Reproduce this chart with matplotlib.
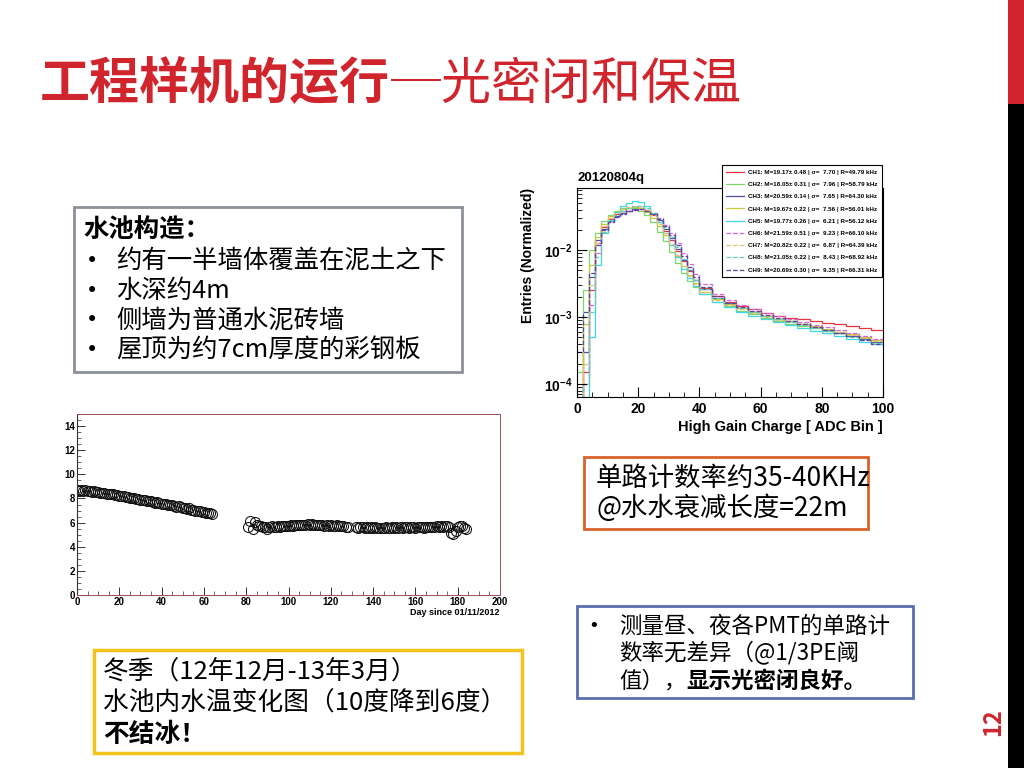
import numpy as np
import matplotlib
matplotlib.use("Agg")
import matplotlib.pyplot as plt
from matplotlib.patches import Rectangle
from matplotlib.lines import Line2D
from matplotlib.ticker import MultipleLocator, LogLocator, NullFormatter

plt.rcParams["font.family"] = ["Noto Sans CJK SC", "DejaVu Sans"]

RED = "#d1252d"
ROOT_FONT = ["Liberation Sans", "DejaVu Sans"]

# ---- histogram data (normalized entries per bin) ----
edges = np.concatenate([np.arange(0, 40, 2), np.arange(40, 101, 4)])

ch1 = [4e-5, 1.5e-4, 2.5e-3, 1.3e-2, 2.2e-2, 2.9e-2, 3.5e-2, 3.9e-2, 4.2e-2, 4.4e-2,
       4.3e-2, 3.9e-2, 3.3e-2, 2.6e-2, 1.95e-2, 1.4e-2, 9.8e-3, 6.8e-3, 4.9e-3, 3.6e-3,
       2.7e-3, 2.05e-3, 1.7e-3, 1.45e-3, 1.3e-3, 1.15e-3, 1.05e-3, 9.8e-4, 9.4e-4, 8.8e-4,
       8.2e-4, 8.0e-4, 7.4e-4, 6.9e-4, 6.4e-4]
ch2 = [1.5e-4, 2.5e-3, 1.0e-2, 1.8e-2, 2.7e-2, 3.4e-2, 3.9e-2, 4.2e-2, 4.3e-2, 4.2e-2,
       3.9e-2, 3.3e-2, 2.6e-2, 1.9e-2, 1.35e-2, 9.3e-3, 6.5e-3, 4.6e-3, 3.5e-3, 2.8e-3,
       2.2e-3, 1.7e-3, 1.45e-3, 1.25e-3, 1.1e-3, 9.8e-4, 8.8e-4, 8.0e-4, 7.4e-4, 6.8e-4,
       6.2e-4, 5.7e-4, 5.2e-4, 4.8e-4, 4.3e-4]
ch3 = [3e-5, 3e-4, 4e-3, 1.4e-2, 2.1e-2, 2.7e-2, 3.2e-2, 3.6e-2, 3.9e-2, 4.1e-2,
       4.2e-2, 4.0e-2, 3.5e-2, 2.8e-2, 2.1e-2, 1.5e-2, 1.05e-2, 7.2e-3, 5.0e-3, 3.6e-3,
       2.6e-3, 1.95e-3, 1.6e-3, 1.35e-3, 1.2e-3, 1.05e-3, 9.5e-4, 8.6e-4, 7.8e-4, 7.0e-4,
       6.4e-4, 5.8e-4, 5.2e-4, 4.7e-4, 4.2e-4]
ch4 = [5e-5, 8e-4, 6e-3, 1.6e-2, 2.5e-2, 3.2e-2, 3.7e-2, 4.1e-2, 4.3e-2, 4.4e-2,
       4.2e-2, 3.7e-2, 3.0e-2, 2.3e-2, 1.7e-2, 1.2e-2, 8.3e-3, 5.8e-3, 4.2e-3, 3.2e-3,
       2.4e-3, 1.85e-3, 1.55e-3, 1.35e-3, 1.2e-3, 1.05e-3, 9.5e-4, 8.7e-4, 8.0e-4, 7.3e-4,
       6.6e-4, 6.0e-4, 5.5e-4, 5.0e-4, 4.5e-4]
ch5 = [2e-5, 6e-5, 5e-4, 6e-3, 1.8e-2, 2.8e-2, 3.7e-2, 4.5e-2, 5.1e-2, 5.4e-2,
       5.2e-2, 4.5e-2, 3.6e-2, 2.6e-2, 1.8e-2, 1.2e-2, 7.8e-3, 5.3e-3, 3.8e-3, 2.9e-3,
       2.2e-3, 1.7e-3, 1.4e-3, 1.2e-3, 1.05e-3, 9.3e-4, 8.4e-4, 7.6e-4, 6.9e-4, 6.3e-4,
       5.7e-4, 5.2e-4, 4.7e-4, 4.3e-4, 3.9e-4]
ch6 = [3e-5, 1e-4, 1.5e-3, 9e-3, 1.9e-2, 2.6e-2, 3.1e-2, 3.5e-2, 3.8e-2, 4.0e-2,
       4.1e-2, 4.0e-2, 3.6e-2, 3.0e-2, 2.4e-2, 1.8e-2, 1.3e-2, 9.0e-3, 6.2e-3, 4.4e-3,
       3.1e-3, 2.25e-3, 1.8e-3, 1.5e-3, 1.3e-3, 1.15e-3, 1.03e-3, 9.3e-4, 8.5e-4, 7.7e-4,
       7.0e-4, 6.4e-4, 5.8e-4, 5.2e-4, 4.7e-4]
ch7 = [4e-5, 2e-4, 3e-3, 1.3e-2, 2.3e-2, 3.0e-2, 3.6e-2, 4.1e-2, 4.4e-2, 4.6e-2,
       4.5e-2, 4.0e-2, 3.3e-2, 2.5e-2, 1.8e-2, 1.25e-2, 8.5e-3, 5.8e-3, 4.1e-3, 3.1e-3,
       2.35e-3, 1.8e-3, 1.5e-3, 1.3e-3, 1.15e-3, 1.02e-3, 9.2e-4, 8.4e-4, 7.7e-4, 7.0e-4,
       6.4e-4, 5.9e-4, 5.4e-4, 4.9e-4, 4.4e-4]
ch8 = [3e-5, 1e-4, 1.2e-3, 8e-3, 1.9e-2, 2.7e-2, 3.3e-2, 3.8e-2, 4.2e-2, 4.5e-2,
       4.6e-2, 4.2e-2, 3.6e-2, 2.9e-2, 2.2e-2, 1.6e-2, 1.1e-2, 7.5e-3, 5.1e-3, 3.6e-3,
       2.6e-3, 1.95e-3, 1.6e-3, 1.35e-3, 1.18e-3, 1.04e-3, 9.3e-4, 8.4e-4, 7.6e-4, 6.9e-4,
       6.3e-4, 5.7e-4, 5.1e-4, 4.6e-4, 4.1e-4]
ch9 = [3e-4, 1.2e-3, 4.5e-3, 1.2e-2, 2.0e-2, 2.6e-2, 3.1e-2, 3.5e-2, 3.8e-2, 4.0e-2,
       4.1e-2, 3.9e-2, 3.5e-2, 2.9e-2, 2.3e-2, 1.7e-2, 1.2e-2, 8.2e-3, 5.6e-3, 4.0e-3,
       2.8e-3, 2.05e-3, 1.65e-3, 1.4e-3, 1.22e-3, 1.08e-3, 9.6e-4, 8.7e-4, 7.9e-4, 7.1e-4,
       6.4e-4, 5.8e-4, 5.2e-4, 4.6e-4, 4.0e-4]

channels = [ch1, ch2, ch3, ch4, ch5, ch6, ch7, ch8, ch9]
ch_labels = [
    "CH1: M=19.17± 0.48 | σ=  7.70 | R=49.79 kHz",
    "CH2: M=18.05± 0.31 | σ=  7.96 | R=58.79 kHz",
    "CH3: M=20.59± 0.14 | σ=  7.65 | R=64.30 kHz",
    "CH4: M=19.67± 0.22 | σ=  7.56 | R=56.01 kHz",
    "CH5: M=19.77± 0.26 | σ=  6.21 | R=56.12 kHz",
    "CH6: M=21.59± 0.51 | σ=  9.23 | R=66.10 kHz",
    "CH7: M=20.82± 0.22 | σ=  6.87 | R=64.39 kHz",
    "CH8: M=21.05± 0.22 | σ=  8.43 | R=68.92 kHz",
    "CH9: M=20.69± 0.30 | σ=  9.35 | R=66.31 kHz",
]
ch_colors = ["#e8333a", "#7bd96a", "#4b4fa8", "#c8c83a", "#3fd8e0",
             "#d766d8", "#e8c070", "#5fd0b8", "#5a45a0"]
ch_styles = ["-", "-", "-", "-", "-", "--", "--", "--", "--"]

# ---- water temperature data ----
days1 = np.arange(0, 65)
temp1 = [8.72, 8.65, 8.70, 8.62, 8.68, 8.60, 8.63, 8.55, 8.58, 8.50,
         8.52, 8.47, 8.44, 8.46, 8.38, 8.40, 8.33, 8.36, 8.28, 8.25,
         8.22, 8.18, 8.20, 8.12, 8.10, 8.05, 8.08, 8.00, 7.96, 7.98,
         7.90, 7.86, 7.88, 7.80, 7.76, 7.78, 7.70, 7.66, 7.68, 7.60,
         7.56, 7.52, 7.55, 7.46, 7.42, 7.45, 7.38, 7.33, 7.36, 7.28,
         7.24, 7.20, 7.15, 7.18, 7.08, 7.05, 7.00, 6.96, 6.98, 6.90,
         6.86, 6.82, 6.80, 6.76, 6.72]
days2 = np.arange(81, 129)
temp2 = [5.60, 6.10, 5.45, 6.05, 5.80, 5.70, 5.75, 5.65, 5.60, 5.50,
         5.62, 5.68, 5.60, 5.66, 5.70, 5.64, 5.72, 5.68, 5.75, 5.70,
         5.78, 5.74, 5.80, 5.76, 5.82, 5.78, 5.84, 5.80, 5.85, 5.82,
         5.86, 5.80, 5.78, 5.82, 5.76, 5.80, 5.74, 5.78, 5.72, 5.76,
         5.74, 5.70, 5.76, 5.72, 5.68, 5.74, 5.66, 5.60]
days3 = np.arange(132, 185)
temp3 = [5.62, 5.58, 5.60, 5.64, 5.58, 5.62, 5.56, 5.60, 5.58, 5.62,
         5.55, 5.58, 5.52, 5.56, 5.60, 5.54, 5.58, 5.62, 5.56, 5.60,
         5.58, 5.62, 5.56, 5.60, 5.64, 5.58, 5.62, 5.60, 5.56, 5.62,
         5.60, 5.64, 5.58, 5.62, 5.66, 5.60, 5.64, 5.62, 5.68, 5.64,
         5.70, 5.66, 5.72, 5.68, 5.60, 5.15, 5.05, 5.30, 5.60, 5.72,
         5.68, 5.55, 5.45]

W, H = 1024, 768
fig = plt.figure(figsize=(W / 100, H / 100), dpi=100)
fig.patch.set_facecolor("white")
renderer = fig.canvas.get_renderer()

# background layer in pixel coordinates
bg = fig.add_axes([0, 0, 1, 1])
bg.set_xlim(0, W)
bg.set_ylim(H, 0)
bg.axis("off")


def px_axes(x0, y0, x1, y1):
    return fig.add_axes([x0 / W, 1 - y1 / H, (x1 - x0) / W, (y1 - y0) / H])


def right_edge(txt):
    # right end of a text item, in background pixel units
    return txt.get_window_extent(renderer).x1


# right side bar
bg.add_patch(Rectangle((1008, 0), 16, 104, color=RED, lw=0))
bg.add_patch(Rectangle((1008, 104), 16, 664, color="black", lw=0))
bg.text(993, 722, "12", color=RED, fontsize=17, fontweight="bold",
        rotation=90, ha="center", va="center")

# title
t_bold = bg.text(40, 85, "工程样机的运行", color=RED, fontsize=36, fontweight="bold",
                 ha="left", va="center")
bg.text(right_edge(t_bold) + 1, 85, "─光密闭和保温", color=RED, fontsize=36,
        ha="left", va="center")

# text boxes
bg.add_patch(Rectangle((74, 207), 388, 165, fill=False, ec="#8c9099", lw=2))
bg.text(83, 230, "水池构造：", fontsize=18.3, fontweight="bold", va="center")
for i, line in enumerate(["约有一半墙体覆盖在泥土之下", "水深约4m",
                          "侧墙为普通水泥砖墙", "屋顶为约7cm厚度的彩钢板"]):
    y = 261 + i * 29.7
    bg.text(86, y, "•", fontsize=15, va="center", family="DejaVu Sans")
    bg.text(116, y, line, fontsize=18.3, va="center")

bg.add_patch(Rectangle((584, 457), 284, 72, fill=False, ec="#d9622b", lw=2))
bg.text(596, 478, "单路计数率约35-40KHz", fontsize=19, va="center")
bg.text(596, 508, "@水水衰减长度=22m", fontsize=19, va="center")

bg.add_patch(Rectangle((577, 606), 336, 92, fill=False, ec="#5b6fae", lw=2))
bg.text(588, 626, "•", fontsize=13, va="center", family="DejaVu Sans")
bg.text(619, 626, "测量昼、夜各PMT的单路计", fontsize=16.2, va="center")
bg.text(619, 653, "数率无差异（@1/3PE阈", fontsize=16.2, va="center")
t_val = bg.text(619, 681, "值），", fontsize=16.2, va="center")
bg.text(right_edge(t_val), 681, "显示光密闭良好。", fontsize=16.2,
        fontweight="bold", va="center")

bg.add_patch(Rectangle((94, 650), 428, 103, fill=False, ec="#f2c31d", lw=2.5))
bg.text(103, 672, "冬季（12年12月-13年3月）", fontsize=18.5, va="center")
bg.text(103, 704, "水池内水温变化图（10度降到6度）", fontsize=18.5, va="center")
bg.text(103, 734, "不结冰！", fontsize=18.5, fontweight="bold", va="center")

# ---- histogram panel ----
ax_h = px_axes(577, 188, 883, 397)
for vals, col, ls in zip(channels, ch_colors, ch_styles):
    ax_h.stairs(vals, edges, color=col, linestyle=ls, lw=0.9, baseline=None)
ax_h.set_yscale("log")
ax_h.set_xlim(0, 100)
ax_h.set_ylim(6.4e-5, 0.085)
ax_h.xaxis.set_major_locator(MultipleLocator(20))
ax_h.xaxis.set_minor_locator(MultipleLocator(5))
ax_h.yaxis.set_major_locator(LogLocator(base=10, numticks=10))
ax_h.yaxis.set_minor_locator(LogLocator(base=10, subs=np.arange(2, 10), numticks=10))
ax_h.yaxis.set_minor_formatter(NullFormatter())
ax_h.tick_params(which="both", direction="in", labelsize=10)
ax_h.tick_params(which="major", length=7, width=0.8)
ax_h.tick_params(which="minor", length=3.5, width=0.6)
for lab in ax_h.get_xticklabels() + ax_h.get_yticklabels():
    lab.set_fontweight("bold")
    lab.set_family(ROOT_FONT)
ax_h.set_xlabel("High Gain Charge [ ADC Bin ]", fontsize=10.5, fontweight="bold",
                family=ROOT_FONT, ha="right", x=1.0, labelpad=3)
ax_h.set_ylabel("Entries (Normalized)", fontsize=10, fontweight="bold",
                family=ROOT_FONT, ha="right", y=1.0, labelpad=6)
ax_h.set_title("20120804q", fontsize=9.5, fontweight="bold", family=ROOT_FONT,
               loc="left", pad=5)

handles = [Line2D([], [], color=c, ls=s, lw=0.9) for c, s in zip(ch_colors, ch_styles)]
leg = fig.legend(handles, ch_labels, loc="upper right",
                 bbox_to_anchor=(882 / W, 1 - 165 / H),
                 prop={"family": ROOT_FONT, "size": 4.5, "weight": "bold"},
                 frameon=True, fancybox=False, edgecolor="black", framealpha=1,
                 handlelength=2.8, labelspacing=1.1, borderpad=0.7,
                 handletextpad=0.7, borderaxespad=0)
leg.get_frame().set_linewidth(0.8)

# ---- water temperature panel ----
ax_t = px_axes(77, 414, 500, 595)
for d, t in [(days1, temp1), (days2, temp2), (days3, temp3)]:
    ax_t.plot(d, t, "o", mfc="none", mec="#111111", ms=7.2, mew=0.75)
ax_t.set_xlim(0, 200)
ax_t.set_ylim(0, 15)
ax_t.xaxis.set_major_locator(MultipleLocator(20))
ax_t.xaxis.set_minor_locator(MultipleLocator(5))
ax_t.yaxis.set_major_locator(MultipleLocator(2))
ax_t.yaxis.set_minor_locator(MultipleLocator(0.5))
ax_t.tick_params(which="both", direction="in", labelsize=7, pad=1.5, color="#333333")
ax_t.tick_params(which="major", length=6, width=0.7)
ax_t.tick_params(which="minor", length=3, width=0.5)
for lab in ax_t.get_xticklabels() + ax_t.get_yticklabels():
    lab.set_fontweight("bold")
    lab.set_family(ROOT_FONT)
for side in ["top", "right", "bottom"]:
    ax_t.spines[side].set_color("#a05050")
    ax_t.spines[side].set_linewidth(0.7)
ax_t.spines["left"].set_color("#333333")
ax_t.spines["left"].set_linewidth(0.8)
ax_t.set_xlabel("Day since 01/11/2012", fontsize=6.5, fontweight="bold",
                family=ROOT_FONT, ha="right", x=1.0, labelpad=1)

fig.savefig("out.png", dpi=100)
